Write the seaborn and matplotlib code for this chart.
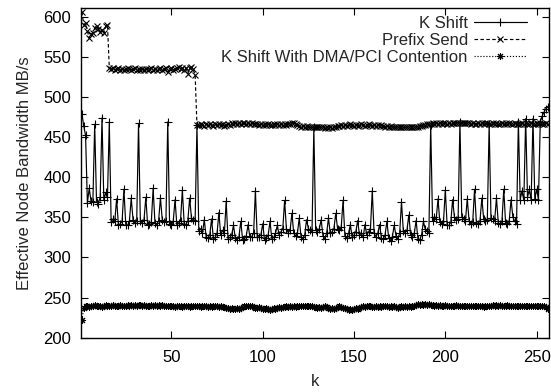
import matplotlib
matplotlib.use('Agg')
import matplotlib.pyplot as plt
import seaborn as sns

k = list(range(1, 257))

k_shift = [
    479, 464, 452, 368, 386, 370, 369, 466, 369, 367, 375, 474, 371, 381, 375, 469,
    344, 348, 345, 373, 340, 342, 345, 385, 341, 340, 345, 374, 347, 343, 345, 467,
    345, 343, 347, 375, 340, 342, 344, 386, 343, 341, 346, 374, 347, 344, 345, 469,
    342, 340, 345, 372, 340, 343, 346, 384, 342, 341, 346, 374, 349, 347, 346, 465,
    333, 336, 330, 347, 326, 324, 328, 348, 323, 325, 330, 356, 328, 334, 330, 370,
    323, 325, 328, 340, 324, 322, 326, 345, 322, 323, 327, 341, 325, 326, 330, 383,
    325, 326, 328, 342, 322, 324, 328, 345, 323, 325, 330, 340, 328, 332, 336, 371,
    335, 331, 334, 355, 330, 327, 330, 349, 325, 323, 328, 347, 336, 334, 332, 462,
    334, 332, 336, 347, 327, 323, 330, 349, 330, 332, 336, 355, 336, 334, 338, 371,
    327, 324, 330, 341, 325, 328, 332, 346, 328, 330, 325, 341, 328, 332, 336, 383,
    330, 326, 330, 341, 324, 323, 328, 345, 324, 321, 326, 340, 327, 323, 330, 369,
    333, 331, 334, 353, 328, 325, 330, 346, 323, 322, 328, 345, 335, 333, 331, 465,
    346, 351, 348, 373, 344, 342, 345, 384, 340, 340, 344, 372, 350, 347, 348, 469,
    350, 348, 345, 373, 346, 342, 344, 385, 343, 342, 346, 374, 348, 346, 347, 466,
    349, 348, 346, 374, 343, 342, 345, 385, 343, 342, 346, 372, 350, 345, 342, 469,
    372, 383, 371, 473, 375, 385, 371, 473, 373, 385, 372, 469, 476, 481, 485, 488,
]

prefix_send = [
    606, 590, 592, 582, 573, 578, 580, 586, 589, 585, 581, 584, 580, 588, 590, 536,
    535, 536, 534, 535, 536, 534, 535, 533, 535, 536, 535, 534, 535, 536, 534, 535,
    534, 535, 533, 535, 534, 535, 536, 534, 535, 533, 535, 536, 534, 535, 536, 531,
    535, 536, 534, 535, 536, 537, 535, 536, 534, 536, 529, 536, 537, 535, 527, 465,
    465, 466, 465, 464, 466, 465, 466, 465, 464, 466, 465, 466, 465, 466, 464, 465,
    466, 465, 467, 466, 467, 466, 467, 466, 467, 468, 466, 467, 466, 467, 466, 466,
    466, 465, 466, 465, 466, 465, 466, 465, 465, 466, 465, 466, 465, 466, 465, 466,
    465, 466, 466, 467, 467, 466, 465, 464, 463, 464, 463, 464, 463, 462, 463, 462,
    463, 462, 463, 462, 463, 461, 462, 461, 462, 461, 462, 463, 464, 464, 465, 464,
    465, 464, 465, 466, 465, 464, 465, 464, 465, 466, 465, 464, 465, 466, 465, 464,
    465, 464, 465, 464, 465, 464, 463, 464, 463, 464, 463, 462, 463, 462, 463, 462,
    463, 462, 463, 462, 463, 463, 462, 463, 463, 464, 464, 465, 465, 466, 466, 466,
    467, 466, 467, 466, 467, 466, 467, 467, 466, 467, 466, 467, 467, 468, 467, 468,
    467, 468, 467, 468, 467, 466, 467, 466, 466, 467, 466, 467, 466, 467, 467, 466,
    466, 467, 466, 467, 466, 466, 467, 466, 467, 466, 467, 466, 466, 467, 466, 466,
    466, 467, 466, 467, 466, 466, 467, 466, 466, 467, 466, 467, 466, 466, 467, 466,
]

dma_contention = [
    222, 237, 239, 240, 238, 240, 239, 241, 240, 239, 240, 238, 240, 241, 240, 239,
    240, 241, 240, 239, 240, 241, 240, 239, 240, 241, 240, 241, 240, 241, 240, 241,
    241, 240, 241, 240, 239, 240, 241, 240, 241, 240, 241, 240, 241, 240, 239, 240,
    239, 240, 239, 238, 239, 240, 239, 238, 239, 240, 239, 238, 239, 240, 239, 240,
    239, 238, 239, 240, 239, 238, 239, 238, 239, 240, 239, 238, 239, 238, 238, 237,
    237, 236, 237, 236, 236, 237, 236, 237, 238, 239, 240, 239, 240, 239, 238, 237,
    237, 238, 237, 236, 236, 237, 236, 235, 236, 237, 236, 237, 238, 237, 238, 238,
    239, 238, 239, 238, 239, 238, 239, 240, 239, 240, 239, 240, 240, 239, 239, 238,
    238, 237, 238, 237, 238, 239, 238, 237, 236, 237, 236, 237, 238, 239, 238, 237,
    237, 236, 235, 236, 235, 236, 237, 236, 237, 238, 239, 238, 239, 240, 239, 238,
    238, 239, 238, 239, 238, 239, 240, 239, 238, 239, 238, 239, 238, 237, 238, 239,
    238, 239, 238, 239, 238, 239, 240, 241, 242, 241, 242, 241, 242, 241, 242, 241,
    241, 240, 241, 240, 241, 240, 240, 241, 240, 239, 240, 239, 240, 241, 240, 239,
    240, 239, 240, 239, 240, 239, 240, 239, 240, 239, 240, 239, 238, 239, 240, 239,
    240, 241, 240, 241, 240, 241, 240, 239, 240, 241, 240, 239, 240, 239, 240, 239,
    240, 239, 240, 239, 240, 239, 240, 239, 240, 239, 240, 239, 240, 239, 238, 236,
]

labels = ["K Shift", "Prefix Send", "K Shift With DMA/PCI Contention"]
x_ticks = [50, 100, 150, 200, 250]
y_ticks = [200, 250, 300, 350, 400, 450, 500, 550, 600]

sns.set_theme(style="ticks")
plt.rcParams['font.family'] = ['Liberation Sans', 'DejaVu Sans']
FS = 12

W, H = 551, 392
fig = plt.figure(figsize=(W / 100, H / 100), dpi=100)
L, R, T, B = 81, 548.5, 8.3, 337.7
ax = fig.add_axes([L / W, 1 - B / H, (R - L) / W, (B - T) / H])

common = dict(ax=ax, color="black", linewidth=0.85, estimator=None,
              markeredgecolor="black", markerfacecolor="black")
sns.lineplot(x=k, y=k_shift, marker="+", markersize=6, markeredgewidth=0.8,
             label=labels[0], **common)
sns.lineplot(x=k, y=prefix_send, linestyle=(0, (3, 2)), marker="x",
             markersize=4.8, markeredgewidth=0.8, label=labels[1], **common)
sns.lineplot(x=k, y=dma_contention, linestyle=(0, (1, 1.5)),
             marker=(8, 2, 0), markersize=5, markeredgewidth=0.75,
             label=labels[2], **common)

ax.set_xlim(0.5, 256.5)
ax.set_ylim(200, 610.5)
ax.set_xticks(x_ticks)
ax.set_yticks(y_ticks)
ax.tick_params(axis="both", direction="in", top=True, right=True,
               length=5, width=0.8, labelsize=FS, colors="black")
ax.tick_params(axis="x", pad=9)
ax.tick_params(axis="y", pad=7)
for s in ax.spines.values():
    s.set_linewidth(1.0)
    s.set_color("black")
ax.set_xlabel("k", fontsize=FS, labelpad=6)
ax.set_ylabel("Effective Node Bandwidth MB/s", fontsize=FS, labelpad=8)

handles, labs = ax.get_legend_handles_labels()
ax.legend(handles, labs, loc="upper right",
          bbox_to_anchor=((527 - L) / (R - L), (B - 16) / (B - T)),
          frameon=False, markerfirst=False, handlelength=3.2,
          handletextpad=0.35, labelspacing=0.12, borderpad=0,
          borderaxespad=0, fontsize=FS)

fig.savefig("out.png", dpi=100)
